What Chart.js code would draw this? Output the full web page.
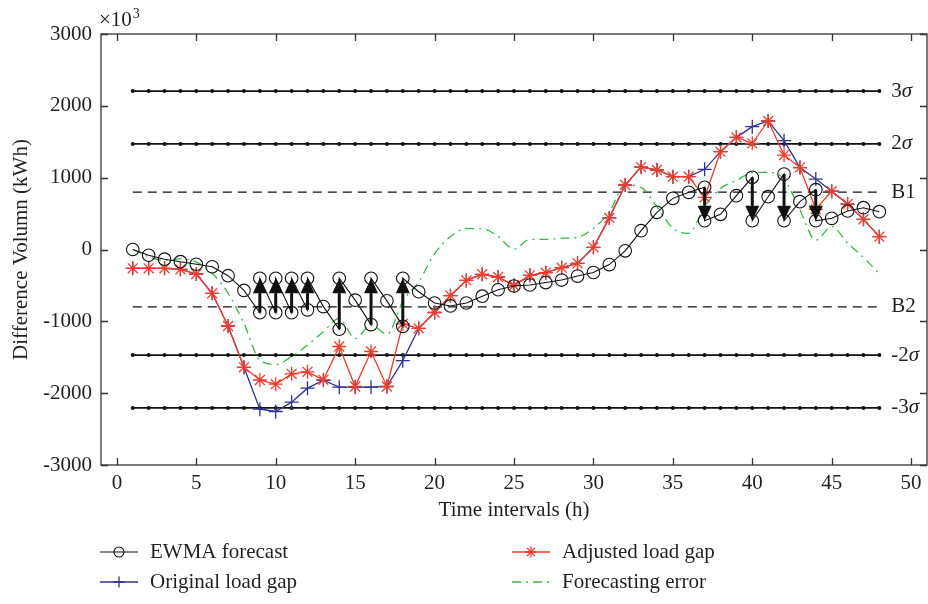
<!DOCTYPE html>
<html>
<head>
<meta charset="utf-8">
<script src="https://cdn.jsdelivr.net/npm/chart.js@4.4.1/dist/chart.umd.min.js"></script>
<style>
  html, body { margin: 0; padding: 0; background: #fff; }
  #wrap { width: 928px; height: 604px; }
</style>
</head>
<body>
<div id="wrap"><canvas id="gapChart" width="928" height="604"></canvas></div>
<script>
// hourly intervals
const hours = [1, 2, 3, 4, 5, 6, 7, 8, 9, 10, 11, 12, 13, 14, 15, 16, 17, 18, 19, 20, 21, 22, 23, 24,
               25, 26, 27, 28, 29, 30, 31, 32, 33, 34, 35, 36, 37, 38, 39, 40, 41, 42, 43, 44, 45, 46, 47, 48];

// EWMA forecast before any correction (x10^3 kWh)
const ewmaForecast = [0, -80, -135, -170, -205, -240, -365, -570, -880, -880, -880, -840, -795, -1110, -705, -1045,
                      -715, -1070, -588, -745, -786, -745, -650, -560, -508, -494, -460, -425, -370, -320, -210, -18,
                      262, 517, 712, 796, 866, 490, 750, 1005, 735, 1050, 666, 833, 434, 536, 582, 526];

// hours where the forecast was pushed back inside the band, and the value it was pushed to
const correctedHours = [9, 10, 11, 12, 14, 16, 18, 37, 40, 42, 44];
const correctedForecast = [-400, -400, -400, -400, -400, -400, -400, 400, 400, 400, 400];

const originalGap = [-262, -262, -262, -276, -341, -610, -1065, -1640, -2223, -2255, -2125, -1930, -1820, -1916, -1916, -1916,
                     -1907, -1547, -1097, -877, -643, -430, -345, -383, -500, -360, -322, -253, -193, 30, 440, 898,
                     1148, 1107, 1014, 1014, 1116, 1362, 1561, 1710, 1789, 1515, 1140, 981, 812, 633, 420, 179];

const adjustedGap = [-262, -262, -262, -276, -341, -610, -1065, -1640, -1817, -1875, -1731, -1703, -1814, -1350, -1907, -1420,
                     -1907, -1035, -1097, -877, -643, -430, -345, -383, -500, -360, -322, -253, -193, 30, 440, 898,
                     1148, 1107, 1014, 1014, 726, 1362, 1561, 1478, 1789, 1315, 1140, 560, 812, 633, 420, 179];

const forecastError = [0, -100, -150, -130, -175, -330, -610, -1030, -1540, -1600, -1490, -1330, -1145, -960, -1240, -1050,
                       -1180, -720, -450, -60, 180, 290, 290, 180, 5, 140, 140, 156, 170, 295, 520, 898,
                       866, 596, 295, 225, 600, 850, 960, 1070, 1075, 980, 550, 130, 320, 90, -110, -340];

// control limits
const bandLevels = [2205, 1470, 800, -800, -1470, -2205];
const bandNames = ['3σ', '2σ', 'B1', 'B2', '-2σ', '-3σ'];

const FONT = "'Liberation Serif', 'DejaVu Serif', serif";
const FS = 21;
const INK = '#231f20';
const RED = '#ee3d2c';
const BLUE = '#2e3191';
const GREEN = '#3cb54a';

Chart.defaults.font.family = FONT;
Chart.defaults.font.size = FS;
Chart.defaults.color = INK;

const ewmaPoints = [];
hours.forEach((h, i) => {
  ewmaPoints.push({ x: h, y: ewmaForecast[i] });
  const k = correctedHours.indexOf(h);
  if (k >= 0) ewmaPoints.push({ x: h, y: correctedForecast[k] });
});

const toXY = arr => hours.map((h, i) => ({ x: h, y: arr[i] }));

const datasets = [
  { label: 'EWMA forecast', data: ewmaPoints, borderColor: '#111', borderWidth: 1.1,
    pointStyle: 'circle', pointRadius: 6.3, pointBorderWidth: 1.1, pointBorderColor: '#111',
    pointBackgroundColor: 'rgba(0,0,0,0)' },
  { label: 'Adjusted load gap', data: toXY(adjustedGap), borderColor: RED, borderWidth: 1.3,
    pointStyle: 'star', pointRadius: 7, pointBorderWidth: 1.3, pointBorderColor: RED },
  { label: 'Original load gap', data: toXY(originalGap), borderColor: BLUE, borderWidth: 1.3,
    pointStyle: 'cross', pointRadius: 7, pointBorderWidth: 1.3, pointBorderColor: BLUE },
  { label: 'Forecasting error', data: toXY(forecastError), borderColor: GREEN, borderWidth: 1.3,
    borderDash: [9, 5, 2, 5], pointRadius: 0, cubicInterpolationMode: 'monotone' }
];

bandLevels.forEach((lv, i) => {
  const dashed = bandNames[i][0] === 'B';
  datasets.push({
    label: bandNames[i], data: hours.map(h => ({ x: h, y: lv })),
    borderColor: '#111', borderWidth: dashed ? 1.3 : 1.6,
    borderDash: dashed ? [9, 6] : [],
    pointRadius: dashed ? 0 : 2, pointBackgroundColor: '#111', pointBorderWidth: 0
  });
});

const legendSlots = [
  { ds: 0, x: 100, y: 552 },
  { ds: 1, x: 512, y: 552 },
  { ds: 2, x: 100, y: 582 },
  { ds: 3, x: 512, y: 582 }
];

const decorations = {
  id: 'decorations',
  beforeDatasetsDraw(chart) {
    const { ctx, chartArea: a, scales: { x, y } } = chart;
    ctx.save();
    ctx.strokeStyle = '#333';
    ctx.lineWidth = 1.3;
    ctx.strokeRect(a.left, a.top, a.right - a.left, a.bottom - a.top);
    const tl = 7;
    ctx.beginPath();
    x.ticks.forEach(t => {
      const px = Math.round(x.getPixelForValue(t.value)) + 0.5;
      ctx.moveTo(px, a.bottom); ctx.lineTo(px, a.bottom - tl);
      ctx.moveTo(px, a.top); ctx.lineTo(px, a.top + tl);
    });
    y.ticks.forEach(t => {
      const py = Math.round(y.getPixelForValue(t.value)) + 0.5;
      ctx.moveTo(a.left, py); ctx.lineTo(a.left + tl, py);
      ctx.moveTo(a.right, py); ctx.lineTo(a.right - tl, py);
    });
    ctx.stroke();
    ctx.restore();
  },
  afterDatasetsDraw(chart) {
    const { ctx, scales: { x, y } } = chart;
    ctx.save();
    ctx.strokeStyle = '#111';
    ctx.fillStyle = '#111';
    correctedHours.forEach((h, k) => {
      const px = x.getPixelForValue(h);
      const from = y.getPixelForValue(ewmaForecast[h - 1]);
      const to = y.getPixelForValue(correctedForecast[k]);
      const dir = to < from ? 1 : -1;
      const head = 15;
      ctx.lineWidth = 3;
      ctx.beginPath();
      ctx.moveTo(px, from);
      ctx.lineTo(px, to + dir * head);
      ctx.stroke();
      ctx.beginPath();
      ctx.moveTo(px, to);
      ctx.lineTo(px - 7, to + dir * head);
      ctx.lineTo(px + 7, to + dir * head);
      ctx.closePath();
      ctx.fill();
    });
    ctx.restore();
  },
  afterDraw(chart) {
    const { ctx, scales: { x, y } } = chart;
    ctx.save();
    ctx.fillStyle = INK;
    ctx.textBaseline = 'middle';
    ctx.textAlign = 'left';

    // band names at the right end of each control line
    const lx = x.getPixelForValue(hours[hours.length - 1]) + 12;
    bandLevels.forEach((lv, i) => {
      const py = y.getPixelForValue(lv);
      const name = bandNames[i];
      ctx.font = `${FS}px ${FONT}`;
      if (name.endsWith('σ')) {
        const head = name.slice(0, -1);
        ctx.fillText(head, lx, py);
        const w = ctx.measureText(head).width;
        ctx.font = `italic ${FS}px ${FONT}`;
        ctx.fillText('σ', lx + w, py);
      } else {
        ctx.fillText(name, lx, py);
      }
    });

    // axis multiplier
    ctx.textBaseline = 'alphabetic';
    ctx.font = `${FS}px ${FONT}`;
    ctx.fillText('×10', 99, 26);
    const mw = ctx.measureText('×10').width;
    ctx.font = `14px ${FONT}`;
    ctx.fillText('3', 99 + mw + 1, 18);

    // legend
    ctx.textBaseline = 'middle';
    legendSlots.forEach(s => {
      const ds = chart.data.datasets[s.ds];
      ctx.save();
      ctx.strokeStyle = ds.borderColor;
      ctx.lineWidth = ds.borderWidth;
      ctx.setLineDash(ds.borderDash || []);
      ctx.beginPath();
      ctx.moveTo(s.x, s.y);
      ctx.lineTo(s.x + 38, s.y);
      ctx.stroke();
      ctx.setLineDash([]);
      if (ds.pointRadius > 0) {
        ctx.strokeStyle = ds.pointBorderColor;
        ctx.fillStyle = 'rgba(0,0,0,0)';
        ctx.lineWidth = ds.pointBorderWidth;
        Chart.helpers.drawPoint(ctx, {
          pointStyle: ds.pointStyle, radius: ds.pointRadius * 0.8,
          borderWidth: ds.pointBorderWidth, rotation: 0
        }, s.x + 19, s.y);
      }
      ctx.restore();
      ctx.font = `${FS}px ${FONT}`;
      ctx.fillStyle = INK;
      ctx.fillText(ds.label, s.x + 50, s.y);
    });
    ctx.restore();
  }
};

new Chart(document.getElementById('gapChart'), {
  type: 'line',
  data: { datasets },
  options: {
    responsive: false,
    animation: false,
    layout: { autoPadding: false, padding: { top: 34, right: 1, left: 0, bottom: 0 } },
    plugins: { legend: { display: false }, tooltip: { enabled: false } },
    elements: { line: { tension: 0 } },
    scales: {
      x: {
        type: 'linear', min: -1, max: 51,
        grid: { display: false, drawTicks: false }, border: { display: false },
        ticks: { stepSize: 5, includeBounds: false, padding: 6, color: INK },
        title: { display: true, text: 'Time intervals (h)', color: INK, padding: { top: 4, bottom: 81 } },
        afterFit: s => { s.height = 139; s.paddingLeft = 0; s.paddingRight = 0; }
      },
      y: {
        min: -3000, max: 3000,
        grid: { display: false, drawTicks: false }, border: { display: false },
        ticks: { stepSize: 1000, padding: 9, color: INK, callback: v => String(v) },
        title: { display: true, text: 'Difference Volumn (kWh)', color: INK, padding: { top: 9, bottom: 4 } },
        afterFit: s => { s.width = 101; s.paddingTop = 0; s.paddingBottom = 0; }
      }
    }
  },
  plugins: [decorations]
});
</script>
</body>
</html>
